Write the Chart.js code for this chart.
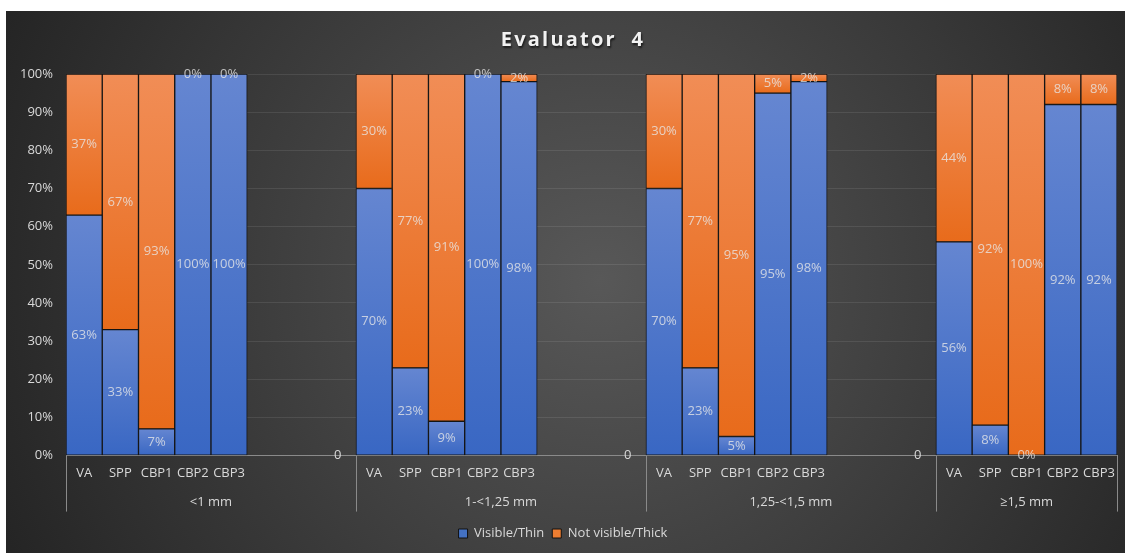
<!DOCTYPE html>
<html>
<head>
<meta charset="utf-8">
<script src="https://cdn.jsdelivr.net/npm/chart.js@4.4.0/dist/chart.umd.min.js"></script>
<style>
  html, body { margin: 0; padding: 0; background: #fff; }
  #wrap { width: 1125px; height: 553px; position: relative; }
</style>
</head>
<body>
<div id="wrap"><canvas id="chart"></canvas></div>
<script>
// data
const chartTitle = "Evaluator  4";
const subLabels = ["VA", "SPP", "CBP1", "CBP2", "CBP3"];
const groupLabels = ["<1 mm", "1-<1,25 mm", "1,25-<1,5 mm", "≥1,5 mm"];
const seriesNames = ["Visible/Thin", "Not visible/Thick"];
const visibleThin = [
    [63, 33, 7, 100, 100],
    [70, 23, 9, 100, 98],
    [70, 23, 5, 95, 98],
    [56, 8, 0, 92, 92],
];
const notVisibleThick = [
    [37, 67, 93, 0, 0],
    [30, 77, 91, 0, 2],
    [30, 77, 95, 5, 2],
    [44, 92, 100, 8, 8],
];
const gapValues = [0, 0, 0]; // the lone "0" label at the end of each empty gap
const blanksPerGap = 3;
const yTicks = [0, 10, 20, 30, 40, 50, 60, 70, 80, 90, 100];

// flatten groups into one category axis with empty gap columns
const labels = [];
const flatVisible = [];
const flatNot = [];
const flatGap = [];
const groupStarts = [];
groupLabels.forEach((g, gi) => {
    groupStarts.push(labels.length);
    subLabels.forEach((s, si) => {
        labels.push(s);
        flatVisible.push(visibleThin[gi][si]);
        flatNot.push(notVisibleThick[gi][si]);
        flatGap.push(null);
    });
    if (gi < groupLabels.length - 1) {
        for (let b = 0; b < blanksPerGap; b++) {
            labels.push("");
            flatVisible.push(null);
            flatNot.push(null);
            flatGap.push(b === blanksPerGap - 1 ? gapValues[gi] : null);
        }
    }
});
groupStarts.push(labels.length);

const textColor = "#d9d9d9";
const fontName = "'Open Sans', 'Noto Sans', sans-serif";
const blueStops = ["#6586d1", "#3967c3"];
const orangeStops = ["#f18d56", "#e86b1b"];

// each bar segment gets its own top-to-bottom gradient, like the Excel fill
function segmentFill(stops, solid) {
    return (ctx) => {
        const chart = ctx.chart;
        if (ctx.type !== "data" || !chart.chartArea || ctx.raw === null) return solid;
        const y = chart.scales.y;
        const i = ctx.dataIndex;
        let lo, hi;
        if (ctx.datasetIndex === 0) {
            lo = 0; hi = flatVisible[i];
        } else {
            lo = flatVisible[i]; hi = lo + flatNot[i];
        }
        const top = y.getPixelForValue(hi);
        const bottom = y.getPixelForValue(lo);
        if (bottom - top < 1) return solid;
        const grad = chart.ctx.createLinearGradient(0, top, 0, bottom);
        grad.addColorStop(0, stops[0]);
        grad.addColorStop(1, stops[1]);
        return grad;
    };
}

const backgroundPlugin = {
    id: "backgroundPlugin",
    beforeDraw(chart) {
        const c = chart.ctx;
        c.save();
        c.fillStyle = "#ffffff";
        c.fillRect(0, 0, chart.width, chart.height);
        const grad = c.createRadialGradient(600, 280, 0, 600, 280, 660);
        grad.addColorStop(0, "#585858");
        grad.addColorStop(1, "#242424");
        c.fillStyle = grad;
        c.fillRect(6, 11, chart.width - 6, chart.height - 11);

        // title
        c.font = "bold 20px " + fontName;
        c.letterSpacing = "2.2px";
        c.textAlign = "center";
        c.textBaseline = "middle";
        c.shadowColor = "rgba(0,0,0,0.6)";
        c.shadowOffsetX = 1;
        c.shadowOffsetY = 2;
        c.shadowBlur = 2;
        c.fillStyle = "#f2f2f2";
        c.fillText(chartTitle, 573, 40);
        c.restore();
    },
};

const labelPlugin = {
    id: "labelPlugin",
    afterDatasetsDraw(chart) {
        const c = chart.ctx;
        const xs = chart.scales.x;
        const area = chart.chartArea;
        c.save();
        c.font = "13px " + fontName;
        c.textAlign = "center";
        c.textBaseline = "middle";

        // percentage labels in the middle of every segment
        [0, 1].forEach((di) => {
            const meta = chart.getDatasetMeta(di);
            meta.data.forEach((el, i) => {
                const v = chart.data.datasets[di].data[i];
                if (v === null) return;
                const { x, y, base } = el.getProps(["x", "y", "base"], true);
                c.fillStyle = "rgba(232,232,232,0.78)";
                c.fillText(v + "%", x, (y + base) / 2);
            });
        });

        // the "0" at the end of each gap
        const gapMeta = chart.getDatasetMeta(2);
        gapMeta.data.forEach((el, i) => {
            const v = flatGap[i];
            if (v === null) return;
            c.fillStyle = textColor;
            c.fillText(String(v), el.x, area.bottom);
        });

        // group separators and group names under the axis
        const step = (xs.right - xs.left) / labels.length;
        c.strokeStyle = "#8a8a8a";
        c.lineWidth = 1;
        groupStarts.forEach((k) => {
            const px = Math.round(xs.left + k * step) + 0.5;
            c.beginPath();
            c.moveTo(px, area.bottom);
            c.lineTo(px, area.bottom + 56);
            c.stroke();
        });
        c.fillStyle = textColor;
        groupLabels.forEach((g, gi) => {
            const mid = xs.left + ((groupStarts[gi] + groupStarts[gi + 1]) / 2) * step;
            c.fillText(g, mid, area.bottom + 47);
        });
        c.restore();
    },
};

new Chart(document.getElementById("chart"), {
    type: "bar",
    data: {
        labels: labels,
        datasets: [
            {
                label: seriesNames[0],
                data: flatVisible,
                backgroundColor: segmentFill(blueStops, "#4a74c8"),
                borderColor: "#141414",
                borderWidth: 1,
                borderSkipped: false,
                barPercentage: 1,
                categoryPercentage: 1,
            },
            {
                label: seriesNames[1],
                data: flatNot,
                backgroundColor: segmentFill(orangeStops, "#ec7c33"),
                borderColor: "#141414",
                borderWidth: 1,
                borderSkipped: false,
                barPercentage: 1,
                categoryPercentage: 1,
            },
            {
                label: "gap",
                data: flatGap,
                backgroundColor: "rgba(0,0,0,0)",
                borderWidth: 0,
                barPercentage: 1,
                categoryPercentage: 1,
            },
        ],
    },
    options: {
        responsive: true,
        maintainAspectRatio: false,
        animation: false,
        events: [],
        layout: { padding: { left: 6, right: 5, top: 74, bottom: 3 } },
        scales: {
            x: {
                stacked: true,
                grid: { display: false, drawTicks: false },
                border: { display: true, color: "#8a8a8a", width: 1 },
                ticks: {
                    color: textColor,
                    font: { family: fontName, size: 13 },
                    autoSkip: false,
                    maxRotation: 0,
                    padding: 10,
                },
                afterFit(scale) { scale.height = 63.4; },
            },
            y: {
                stacked: true,
                min: 0,
                max: 100,
                grid: { color: "rgba(255,255,255,0.09)", drawTicks: false },
                border: { display: false },
                afterBuildTicks(scale) { scale.ticks = yTicks.map((v) => ({ value: v })); },
                ticks: {
                    color: textColor,
                    font: { family: fontName, size: 13 },
                    padding: 13,
                    callback: (v) => v + "%",
                },
                afterFit(scale) { scale.width = 60; },
            },
        },
        plugins: {
            title: { display: false },
            tooltip: { enabled: false },
            legend: {
                position: "bottom",
                labels: {
                    color: textColor,
                    font: { family: fontName, size: 13 },
                    boxWidth: 9,
                    boxHeight: 9,
                    padding: 8,
                    generateLabels: () => [
                        { text: seriesNames[0], fillStyle: "#4472c4", strokeStyle: "#111", lineWidth: 1, fontColor: textColor, datasetIndex: 0 },
                        { text: seriesNames[1], fillStyle: "#ed7d31", strokeStyle: "#111", lineWidth: 1, fontColor: textColor, datasetIndex: 1 },
                    ],
                },
            },
        },
    },
    plugins: [backgroundPlugin, labelPlugin],
});
</script>
</body>
</html>
